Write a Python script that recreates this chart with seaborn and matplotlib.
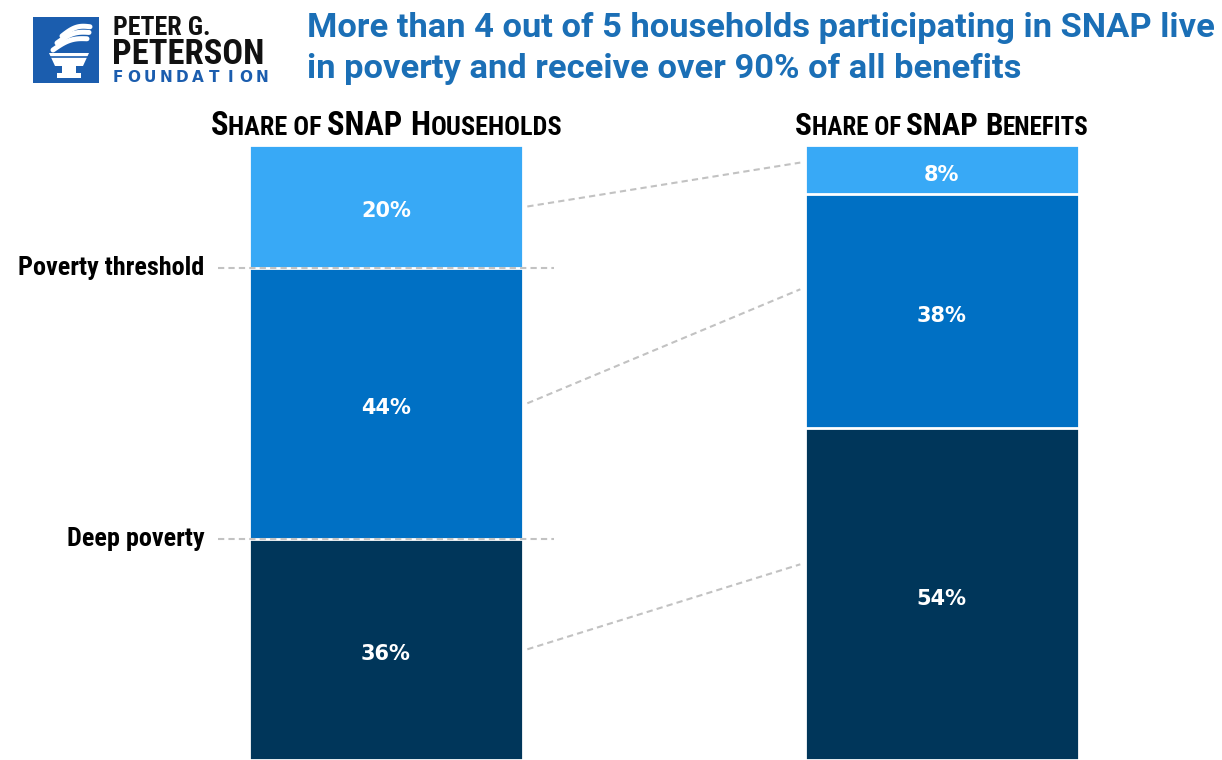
import numpy as np
import pandas as pd
import matplotlib
matplotlib.use("Agg")
import matplotlib.pyplot as plt
import seaborn as sns
from matplotlib import transforms
from matplotlib import font_manager as fm
from matplotlib.patches import Polygon, Rectangle

# ---------------- data ----------------
groups = ["Share of SNAP Households", "Share of SNAP Benefits"]
segments = ["Deep poverty", "Poverty", "Above poverty"]
households = [36, 44, 20]
benefits = [54, 38, 8]
threshold_labels = ["Deep poverty", "Poverty threshold"]
title_lines = ["More than 4 out of 5 households participating in SNAP live",
               "in poverty and receive over 90% of all benefits"]
header_pieces = [
    [("S", "L"), ("HARE OF ", "S"), ("SNAP ", "L"), ("H", "L"), ("OUSEHOLDS", "S")],
    [("S", "L"), ("HARE OF ", "S"), ("SNAP ", "L"), ("B", "L"), ("ENEFITS", "S")],
]

# ---------------- style ----------------
colors = ["#00365A", "#0070C4", "#38A9F6"]
title_color = "#1B6FB6"
logo_blue = "#1B5DAE"
dash_gray = "#C2C2C2"
BAR_W = 0.493

sns.set_theme(style="white")

# choose a condensed family if one is installed
available = {}
for f in fm.fontManager.ttflist:
    available.setdefault(f.name, set()).add(str(f.stretch))
STRETCH = "normal"
FAMILY = None
for cand in ["Liberation Sans Narrow", "Roboto Condensed", "Open Sans Condensed",
             "Noto Sans Condensed", "DejaVu Sans Condensed"]:
    if cand in available:
        FAMILY = cand
        break
if FAMILY is None:
    for cand in ["Noto Sans", "DejaVu Sans", "Open Sans", "Roboto"]:
        st = available.get(cand, set())
        if any(s in ("condensed", "semi-condensed", "extra-condensed") for s in st):
            FAMILY = cand
            STRETCH = "condensed"
            break
if FAMILY is None:
    FAMILY = "Liberation Sans" if "Liberation Sans" in available else "DejaVu Sans"

WIDE = ["Roboto", "Liberation Sans", "DejaVu Sans"]

plt.rcParams["font.family"] = [FAMILY, "DejaVu Sans"]
plt.rcParams["font.stretch"] = STRETCH

fig = plt.figure(figsize=(12.22, 7.6), dpi=100)
renderer = fig.canvas.get_renderer()


def fit_width(t, target):
    w = t.get_window_extent(renderer).width
    t.set_fontsize(t.get_fontsize() * target / w)


ax = fig.add_axes([0, 0, 1, 615 / 760])

df = pd.DataFrame({
    "group": np.repeat(groups, len(segments)),
    "segment": segments * len(groups),
    "value": households + benefits,
})
df["cum"] = df.groupby("group")["value"].cumsum()

# stacked bars drawn top layer first, then overdrawn
for i in reversed(range(len(segments))):
    sub = df[df["segment"] == segments[i]]
    sns.barplot(data=sub, x="group", y="cum", order=groups, color=colors[i],
                saturation=1, width=BAR_W, edgecolor="white", linewidth=2,
                ax=ax, errorbar=None)

ax.set_xlim(-0.694, 1.504)
ax.set_ylim(0, 100)
ax.axis("off")

# value labels
for gi, g in enumerate(groups):
    sub = df[df["group"] == g]
    for _, r in sub.iterrows():
        ax.text(gi, r["cum"] - r["value"] / 2 - 0.8, f"{r['value']}%",
                ha="center", va="center", color="white", fontsize=15,
                fontweight="semibold", family=["DejaVu Sans"], stretch="normal",
                zorder=6)

# threshold dashed lines + labels
hsub = df[df["group"] == groups[0]]
half = BAR_W / 2
label_widths = {"Poverty threshold": 187, "Deep poverty": 138}
for lab, yv in zip(threshold_labels, hsub["cum"].values[:2]):
    ax.plot([-half - 0.056, half + 0.056], [yv, yv], color=dash_gray, lw=1.5,
            ls=(0, (3, 2)), zorder=5, solid_capstyle="butt")
    t = ax.text(-half - 0.08, yv, lab, ha="right", va="center", fontsize=16,
                fontweight="bold", color="black")
    fit_width(t, label_widths[lab])

# connectors between bars
bsub = df[df["group"] == groups[1]]
for (hv, hc), (bv, bc) in zip(hsub[["value", "cum"]].values, bsub[["value", "cum"]].values):
    y0 = hc - hv / 2
    y1 = bc - bv / 2 + 0.08 * bv + 0.5
    ax.plot([half + 0.008, 1 - half - 0.008], [y0, y1], color=dash_gray, lw=1.5,
            ls=(0, (3, 2)), zorder=5)

# small-caps headers
header_target = [350, 293]
for gi, pieces in enumerate(header_pieces):
    sizes = {"L": 18, "S": 14.5}
    widths = []
    for txt, sz in pieces:
        t = fig.text(0, 0, txt, fontsize=sizes[sz], fontweight="bold")
        widths.append(t.get_window_extent(renderer).width)
        t.remove()
    k = header_target[gi] / sum(widths)
    sizes = {s: v * k for s, v in sizes.items()}
    widths = [w * k for w in widths]
    x = -sum(widths) / 2
    for (txt, sz), w in zip(pieces, widths):
        tr = transforms.offset_copy(ax.transData, fig=fig, x=x, y=0, units="dots")
        ax.text(gi, 101.6, txt, transform=tr, ha="left", va="baseline",
                fontsize=sizes[sz], fontweight="bold", color="black", clip_on=False)
        x += w

# ---------------- overlay: logo + title ----------------
ov = fig.add_axes([0, 0, 1, 1])
ov.set_xlim(0, 1222)
ov.set_ylim(760, 0)
ov.axis("off")
ov.patch.set_alpha(0)

ov.add_patch(Rectangle((33, 17), 66, 66, color=logo_blue, lw=0))
# torch
ov.add_patch(Polygon([(49, 53), (89, 53), (83, 66), (55, 66)], closed=True, color="white", lw=0))
ov.add_patch(Rectangle((62, 66), 14, 7, color="white", lw=0))
ov.add_patch(Rectangle((57, 73), 24, 5, color="white", lw=0))
ov.plot([49, 89], [57, 57], color=logo_blue, lw=1.2)
fl = np.linspace(0, 1, 40)
for x0, y0, ln in [(53, 50, 34), (57, 43, 32), (62, 36, 28)]:
    xs = x0 + ln * fl
    ys = y0 - 0.33 * ln * fl - 4 * np.sin(fl * np.pi)
    ov.plot(xs, ys, color="white", lw=3.6, solid_capstyle="round")

t = ov.text(113, 35, "PETER G.", fontsize=15.5, fontweight="bold", color="#111111",
            va="baseline", ha="left")
fit_width(t, 98)
t = ov.text(112, 64.5, "PETERSON", fontsize=21, fontweight="bold", color="#111111",
            va="baseline", ha="left")
fit_width(t, 152)
for k, ch in enumerate("FOUNDATION"):
    ov.text(118 + k * 16.0, 82.5, ch, fontsize=11, fontweight="bold", color=logo_blue,
            va="baseline", ha="center", family=["DejaVu Sans"], stretch="normal")

t1 = ov.text(307, 37, title_lines[0], fontsize=22, fontweight="bold", color=title_color,
             va="baseline", ha="left", family=WIDE, stretch="normal")
fit_width(t1, 906)
ov.text(307, 78, title_lines[1], fontsize=t1.get_fontsize(), fontweight="bold",
        color=title_color, va="baseline", ha="left", family=WIDE, stretch="normal")

fig.savefig("out.png", dpi=100)
